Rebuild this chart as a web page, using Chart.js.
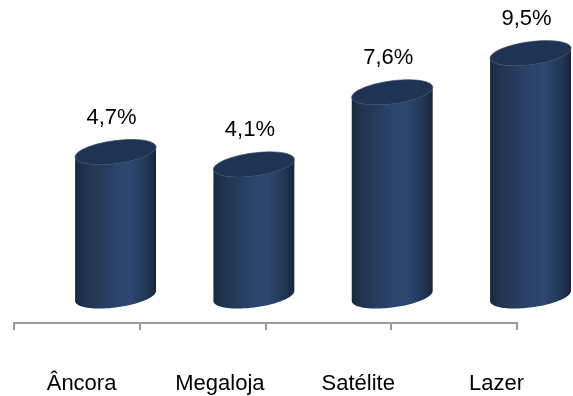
<!DOCTYPE html>
<html>
<head>
<meta charset="utf-8">
<script src="https://cdn.jsdelivr.net/npm/chart.js@4.4.0/dist/chart.umd.min.js"></script>
<style>
  html, body { margin: 0; padding: 0; background: #fff; }
  canvas { display: block; }
</style>
</head>
<body>
<canvas id="myChart" width="573" height="396"></canvas>
<script>
var categorias = ['Âncora', 'Megaloja', 'Satélite', 'Lazer'];
var valores = [4.7, 4.1, 7.6, 9.5];

var FONT = '"Liberation Sans", Arial, sans-serif';
var FLOOR_DEPTH = 27;   // distância do chão dos cilindros até a linha do eixo
var SHEAR = 5;          // inclinação das elipses (esquerda mais baixa)

// deslocamento da perspectiva 3D: cilindros e rótulos ficam mais à direita
function projBar(x) { return x * 1.1 + 31; }
function projLabel(x) { return x * 1.1 - 3; }

function ellipsePt(cx, cy, rx, ry, t) {
    return [cx + rx * Math.cos(t), cy + ry * Math.sin(t) - SHEAR * Math.cos(t)];
}

function drawCylinder(ctx, cx, top, bottom, rx, ry) {
    var i, p, n = 40;
    var grad = ctx.createLinearGradient(cx - rx, 0, cx + rx, 0);
    grad.addColorStop(0, '#18283f');
    grad.addColorStop(0.12, '#20344f');
    grad.addColorStop(0.5, '#2a446a');
    grad.addColorStop(0.68, '#2c4771');
    grad.addColorStop(0.88, '#213756');
    grad.addColorStop(1, '#17253b');

    // corpo: lado esquerdo, arco inferior, lado direito, arco frontal do topo
    ctx.beginPath();
    p = ellipsePt(cx, top, rx, ry, Math.PI);
    ctx.moveTo(p[0], p[1]);
    p = ellipsePt(cx, bottom, rx, ry, Math.PI);
    ctx.lineTo(p[0], p[1]);
    for (i = 1; i <= n; i++) {
        p = ellipsePt(cx, bottom, rx, ry, Math.PI - Math.PI * i / n);
        ctx.lineTo(p[0], p[1]);
    }
    p = ellipsePt(cx, top, rx, ry, 0);
    ctx.lineTo(p[0], p[1]);
    for (i = 1; i <= n; i++) {
        p = ellipsePt(cx, top, rx, ry, Math.PI * i / n);
        ctx.lineTo(p[0], p[1]);
    }
    ctx.closePath();
    ctx.fillStyle = grad;
    ctx.fill();

    // tampa
    ctx.beginPath();
    for (i = 0; i <= 2 * n; i++) {
        p = ellipsePt(cx, top, rx, ry, Math.PI * i / n);
        if (i == 0) ctx.moveTo(p[0], p[1]); else ctx.lineTo(p[0], p[1]);
    }
    ctx.closePath();
    ctx.fillStyle = '#1f3352';
    ctx.fill();
    ctx.strokeStyle = 'rgba(45, 70, 105, 0.7)';
    ctx.lineWidth = 1;
    ctx.stroke();
}

var cilindros = {
    id: 'cilindros',
    afterDatasetsDraw: function (chart) {
        var ctx = chart.ctx;
        var meta = chart.getDatasetMeta(0);
        var floor = chart.chartArea.bottom - FLOOR_DEPTH;
        ctx.save();
        meta.data.forEach(function (bar, i) {
            var cx = projBar(bar.x);
            var rx = bar.width * 1.1 / 2;
            drawCylinder(ctx, cx, bar.y, floor, rx, 11.5);

            ctx.fillStyle = '#000';
            ctx.font = '22px ' + FONT;
            ctx.textAlign = 'center';
            ctx.textBaseline = 'alphabetic';
            ctx.fillText(valores[i].toFixed(1).replace('.', ',') + '%', cx - 4, bar.y - 28);
        });
        ctx.restore();
    },
    afterDraw: function (chart) {
        var ctx = chart.ctx;
        var xs = chart.scales.x;
        ctx.save();
        ctx.fillStyle = '#000';
        ctx.font = '22px ' + FONT;
        ctx.textAlign = 'center';
        ctx.textBaseline = 'alphabetic';
        categorias.forEach(function (c, i) {
            ctx.fillText(c, projLabel(xs.getPixelForValue(i)), 390);
        });
        ctx.restore();
    }
};

var myChart;

window.onload = function () {
    var ctx = document.getElementById('myChart').getContext('2d');
    myChart = new Chart(ctx, {
        type: 'bar',
        data: {
            labels: categorias,
            datasets: [{
                data: valores,
                backgroundColor: 'rgba(0,0,0,0)',
                borderWidth: 0,
                categoryPercentage: 1,
                barPercentage: 0.585
            }]
        },
        options: {
            responsive: false,
            animation: false,
            layout: { padding: { left: 14, right: 56, top: 12, bottom: 66 } },
            plugins: { legend: { display: false }, tooltip: { enabled: false } },
            scales: {
                x: {
                    grid: {
                        display: true,
                        drawOnChartArea: false,
                        drawTicks: true,
                        tickLength: 7,
                        color: '#9a9a9a',
                        lineWidth: 2
                    },
                    border: { display: true, color: '#9a9a9a', width: 2 },
                    ticks: { display: false }
                },
                y: {
                    display: false,
                    min: -3.6,
                    max: 11.5
                }
            }
        },
        plugins: [cilindros]
    });
};
</script>
</body>
</html>
